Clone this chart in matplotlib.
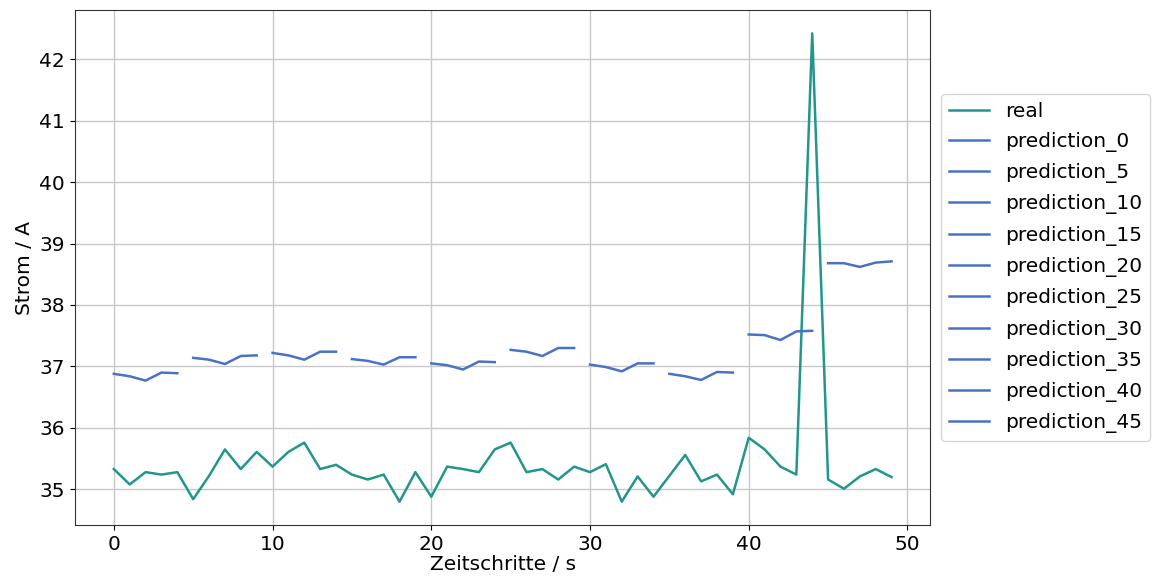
import numpy as np
import matplotlib
matplotlib.use("Agg")
import matplotlib.pyplot as plt

# real current values per time step
real = [35.33, 35.08, 35.28, 35.24, 35.28, 34.84, 35.22, 35.65, 35.33, 35.61,
        35.37, 35.61, 35.76, 35.33, 35.40, 35.24, 35.16, 35.24, 34.80, 35.28,
        34.88, 35.37, 35.33, 35.28, 35.65, 35.76, 35.28, 35.33, 35.16, 35.37,
        35.28, 35.41, 34.80, 35.21, 34.88, 35.22, 35.56, 35.13, 35.24, 34.92,
        35.84, 35.65, 35.37, 35.24, 42.42, 35.16, 35.01, 35.21, 35.33, 35.20]

# predictions, each starting at its offset, 5 steps long
pred_starts = [0, 5, 10, 15, 20, 25, 30, 35, 40, 45]
pred_values = [
    [36.88, 36.84, 36.77, 36.90, 36.89],
    [37.14, 37.11, 37.04, 37.17, 37.18],
    [37.22, 37.18, 37.11, 37.24, 37.24],
    [37.12, 37.09, 37.03, 37.15, 37.15],
    [37.05, 37.02, 36.95, 37.08, 37.07],
    [37.27, 37.24, 37.17, 37.30, 37.30],
    [37.03, 36.99, 36.92, 37.05, 37.05],
    [36.88, 36.84, 36.78, 36.91, 36.90],
    [37.52, 37.51, 37.43, 37.57, 37.58],
    [38.68, 38.68, 38.62, 38.69, 38.71],
]

fig = plt.figure(figsize=(11.53, 5.86), dpi=100)
ax = fig.add_axes([0.065, 0.104, 0.742, 0.879])

ax.plot(np.arange(len(real)), real, color="#22968c", lw=1.8, label="real")
for start, vals in zip(pred_starts, pred_values):
    ax.plot(np.arange(start, start + len(vals)), vals, color="#4a72c4", lw=1.8,
            label="prediction_%d" % start)

ax.grid(True, color="#c8c8c8", lw=1)
ax.set_axisbelow(True)
for s in ax.spines.values():
    s.set_color("#333333")
ax.tick_params(labelsize=14.5)
ax.set_xlabel("Zeitschritte / s", fontsize=14.5, labelpad=1)
ax.set_ylabel("Strom / A", fontsize=14.5, labelpad=4)
ax.legend(loc="center left", bbox_to_anchor=(1.005, 0.5), fontsize=14.5,
          handlelength=2.0, labelspacing=0.56, handletextpad=0.8,
          borderaxespad=0.3)

fig.savefig("out.png", dpi=100)
